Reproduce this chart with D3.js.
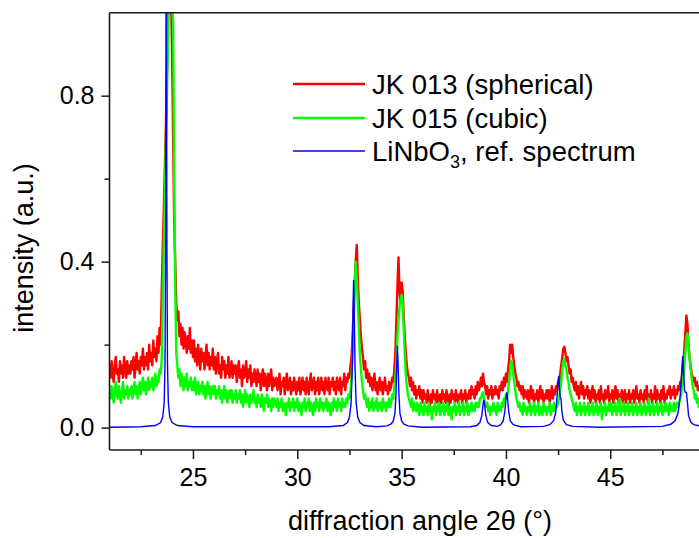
<!DOCTYPE html>
<html><head><meta charset="utf-8">
<script src="https://cdn.jsdelivr.net/npm/d3@7"></script>
<style>body{margin:0;background:#fff;}svg{display:block;font-family:"Liberation Sans",Arial,sans-serif;}</style>
</head><body>
<script>
// ---- data (sampled every 0.05 deg from 21.00) ----
const xStart = 21.0, xStep = 0.05;
const redValues = [
0.15,0.12,0.16,0.13,0.11,0.15,0.17,0.13,0.14,0.11,0.16,0.13,0.15,0.12,0.17,0.14,0.12,0.16,0.13,0.15,
0.13,0.16,0.14,0.17,0.12,0.15,0.18,0.14,0.16,0.13,0.17,0.15,0.19,0.14,0.17,0.15,0.18,0.14,0.20,0.16,
0.18,0.15,0.21,0.17,0.19,0.16,0.22,0.18,0.24,0.20,0.32,0.43,0.52,0.62,0.72,0.85,0.95,1.10,1.20,1.05,
0.90,0.70,0.50,0.40,0.30,0.26,0.28,0.22,0.25,0.20,0.24,0.19,0.23,0.21,0.18,0.22,0.19,0.24,0.18,0.21,
0.17,0.21,0.16,0.19,0.15,0.20,0.17,0.14,0.19,0.16,0.18,0.14,0.17,0.20,0.15,0.18,0.14,0.17,0.15,0.19,
0.14,0.17,0.13,0.16,0.18,0.13,0.15,0.12,0.17,0.14,0.16,0.12,0.15,0.13,0.17,0.12,0.14,0.16,0.12,0.15,
0.13,0.15,0.11,0.14,0.16,0.12,0.14,0.10,0.15,0.12,0.13,0.16,0.11,0.14,0.12,0.15,0.10,0.13,0.11,0.14,
0.12,0.10,0.14,0.11,0.13,0.09,0.12,0.14,0.10,0.13,0.11,0.09,0.13,0.10,0.12,0.14,0.09,0.12,0.10,0.11,
0.12,0.09,0.11,0.13,0.08,0.11,0.10,0.12,0.08,0.11,0.13,0.09,0.10,0.12,0.08,0.11,0.09,0.12,0.10,0.08,
0.11,0.09,0.12,0.08,0.10,0.12,0.09,0.11,0.08,0.12,0.10,0.08,0.11,0.13,0.09,0.10,0.12,0.08,0.11,0.09,
0.12,0.08,0.10,0.12,0.09,0.11,0.08,0.12,0.10,0.09,0.12,0.08,0.11,0.10,0.12,0.09,0.11,0.08,0.12,0.10,
0.09,0.12,0.08,0.11,0.10,0.13,0.09,0.12,0.11,0.13,0.12,0.15,0.17,0.22,0.28,0.35,0.40,0.44,0.36,0.30,
0.26,0.22,0.19,0.17,0.14,0.16,0.12,0.14,0.11,0.13,0.10,0.12,0.09,0.11,0.13,0.09,0.11,0.08,0.10,0.12,
0.09,0.11,0.08,0.10,0.12,0.09,0.10,0.08,0.11,0.09,0.10,0.12,0.11,0.14,0.18,0.26,0.34,0.41,0.33,0.30,
0.35,0.33,0.27,0.22,0.18,0.15,0.13,0.12,0.10,0.12,0.09,0.11,0.08,0.10,0.07,0.09,0.08,0.10,0.07,0.09,
0.06,0.09,0.07,0.08,0.06,0.09,0.07,0.05,0.08,0.06,0.09,0.07,0.08,0.06,0.09,0.07,0.05,0.08,0.06,0.09,
0.07,0.08,0.06,0.09,0.07,0.05,0.08,0.06,0.09,0.07,0.08,0.06,0.09,0.07,0.06,0.08,0.07,0.09,0.06,0.08,
0.07,0.09,0.06,0.08,0.07,0.09,0.07,0.10,0.08,0.09,0.07,0.10,0.08,0.11,0.09,0.10,0.12,0.10,0.13,0.11,
0.10,0.08,0.10,0.07,0.09,0.08,0.10,0.07,0.09,0.08,0.10,0.08,0.09,0.07,0.10,0.09,0.11,0.09,0.12,0.10,
0.13,0.11,0.14,0.16,0.20,0.18,0.20,0.17,0.15,0.13,0.12,0.10,0.11,0.09,0.10,0.08,0.10,0.07,0.09,0.08,
0.07,0.09,0.06,0.08,0.10,0.07,0.09,0.06,0.08,0.07,0.09,0.06,0.08,0.10,0.07,0.09,0.06,0.08,0.07,0.09,
0.07,0.09,0.06,0.08,0.10,0.07,0.09,0.08,0.10,0.09,0.11,0.10,0.13,0.15,0.17,0.19,0.195,0.18,0.16,0.17,
0.15,0.13,0.14,0.11,0.12,0.10,0.09,0.11,0.08,0.10,0.07,0.09,0.11,0.08,0.10,0.07,0.09,0.08,0.10,0.07,
0.09,0.06,0.08,0.10,0.07,0.09,0.06,0.08,0.07,0.09,0.06,0.10,0.07,0.08,0.06,0.09,0.07,0.08,0.10,0.06,
0.08,0.07,0.09,0.06,0.08,0.10,0.07,0.09,0.06,0.08,0.07,0.09,0.06,0.08,0.09,0.06,0.08,0.07,0.09,0.06,
0.08,0.07,0.09,0.06,0.08,0.10,0.07,0.08,0.06,0.09,0.07,0.08,0.06,0.09,0.07,0.10,0.06,0.08,0.07,0.09,
0.06,0.08,0.07,0.10,0.06,0.09,0.07,0.08,0.06,0.09,0.07,0.10,0.06,0.08,0.07,0.09,0.08,0.10,0.07,0.09,
0.08,0.10,0.07,0.09,0.08,0.10,0.09,0.11,0.10,0.13,0.15,0.19,0.23,0.27,0.25,0.20,0.17,0.15,0.13,0.12,
0.11,0.12,0.10,0.11,0.09,0.10,0.09,0.10
];
const greenValues = [
0.09,0.07,0.10,0.08,0.06,0.09,0.11,0.08,0.07,0.10,0.08,0.06,0.09,0.11,0.07,0.09,0.08,0.10,0.07,0.09,
0.08,0.10,0.07,0.09,0.11,0.08,0.10,0.07,0.09,0.11,0.08,0.10,0.12,0.09,0.11,0.08,0.10,0.12,0.09,0.11,
0.10,0.12,0.09,0.11,0.13,0.10,0.12,0.11,0.14,0.13,0.16,0.30,0.43,0.55,0.68,0.80,0.92,1.05,1.10,1.05,
1.02,0.98,0.60,0.35,0.18,0.15,0.12,0.14,0.10,0.13,0.11,0.09,0.12,0.10,0.13,0.09,0.11,0.10,0.12,0.09,
0.11,0.09,0.12,0.08,0.10,0.11,0.08,0.10,0.09,0.11,0.08,0.10,0.07,0.09,0.11,0.08,0.10,0.07,0.09,0.10,
0.08,0.10,0.07,0.09,0.08,0.10,0.07,0.09,0.06,0.08,0.10,0.07,0.09,0.06,0.08,0.09,0.07,0.09,0.06,0.08,
0.07,0.09,0.06,0.08,0.07,0.09,0.06,0.08,0.05,0.07,0.09,0.06,0.08,0.07,0.05,0.08,0.06,0.07,0.09,0.06,
0.07,0.05,0.08,0.06,0.07,0.05,0.08,0.06,0.04,0.07,0.06,0.08,0.05,0.07,0.06,0.04,0.07,0.05,0.07,0.06,
0.05,0.07,0.04,0.06,0.05,0.07,0.04,0.06,0.05,0.03,0.06,0.05,0.07,0.04,0.06,0.05,0.07,0.04,0.06,0.05,
0.07,0.04,0.06,0.05,0.03,0.06,0.05,0.07,0.04,0.06,0.05,0.07,0.04,0.06,0.05,0.03,0.06,0.04,0.07,0.05,
0.06,0.04,0.07,0.05,0.06,0.04,0.06,0.05,0.07,0.04,0.06,0.05,0.03,0.06,0.04,0.07,0.05,0.06,0.04,0.07,
0.05,0.06,0.04,0.07,0.05,0.06,0.05,0.07,0.06,0.08,0.07,0.09,0.12,0.17,0.25,0.33,0.40,0.36,0.30,0.24,
0.18,0.14,0.11,0.09,0.07,0.08,0.06,0.05,0.07,0.04,0.06,0.05,0.07,0.04,0.06,0.05,0.07,0.04,0.06,0.05,
0.06,0.04,0.07,0.05,0.06,0.04,0.06,0.05,0.07,0.05,0.06,0.08,0.07,0.10,0.12,0.16,0.22,0.26,0.29,0.31,
0.32,0.30,0.24,0.18,0.13,0.10,0.08,0.07,0.06,0.05,0.07,0.04,0.06,0.05,0.04,0.06,0.05,0.03,0.06,0.04,
0.05,0.03,0.06,0.04,0.05,0.03,0.06,0.04,0.05,0.02,0.05,0.04,0.06,0.03,0.05,0.04,0.06,0.03,0.05,0.04,
0.06,0.03,0.05,0.04,0.06,0.03,0.05,0.04,0.02,0.05,0.04,0.06,0.03,0.05,0.04,0.06,0.03,0.05,0.04,0.06,
0.03,0.05,0.04,0.06,0.03,0.05,0.04,0.06,0.04,0.05,0.04,0.06,0.05,0.06,0.05,0.07,0.07,0.08,0.085,0.07,
0.06,0.05,0.06,0.04,0.05,0.03,0.05,0.04,0.06,0.04,0.05,0.03,0.06,0.04,0.05,0.04,0.06,0.05,0.07,0.06,
0.08,0.07,0.09,0.11,0.14,0.16,0.15,0.13,0.11,0.09,0.07,0.06,0.05,0.06,0.04,0.05,0.03,0.06,0.04,0.05,
0.03,0.05,0.04,0.06,0.03,0.05,0.04,0.06,0.03,0.05,0.04,0.06,0.03,0.05,0.04,0.03,0.06,0.04,0.05,0.03,
0.05,0.04,0.06,0.03,0.05,0.04,0.06,0.04,0.05,0.05,0.06,0.07,0.09,0.11,0.14,0.16,0.165,0.15,0.14,0.12,
0.11,0.09,0.08,0.07,0.06,0.05,0.04,0.06,0.03,0.05,0.04,0.06,0.03,0.05,0.04,0.06,0.03,0.05,0.04,0.06,
0.03,0.05,0.04,0.06,0.03,0.05,0.04,0.06,0.03,0.05,0.04,0.06,0.02,0.05,0.04,0.06,0.03,0.05,0.04,0.06,
0.04,0.06,0.03,0.05,0.04,0.06,0.03,0.05,0.04,0.07,0.03,0.05,0.04,0.06,0.03,0.05,0.04,0.06,0.03,0.05,
0.04,0.06,0.03,0.05,0.04,0.06,0.03,0.05,0.04,0.06,0.03,0.05,0.04,0.06,0.03,0.05,0.04,0.07,0.03,0.05,
0.04,0.06,0.03,0.05,0.04,0.06,0.03,0.05,0.04,0.06,0.03,0.05,0.04,0.06,0.04,0.05,0.03,0.06,0.04,0.05,
0.04,0.06,0.04,0.05,0.06,0.05,0.06,0.07,0.08,0.10,0.12,0.15,0.18,0.22,0.227,0.20,0.17,0.14,0.12,0.10,
0.09,0.07,0.08,0.06,0.07,0.05,0.06,0.05
];
const blueX = [21.0,22.5,23.2,23.45,23.55,23.62,23.66,23.69,23.72,23.75,23.78,23.82,23.89,24.0,24.25,25.0,
31.5,32.2,32.4,32.5,32.58,32.63,32.67,32.70,32.73,32.77,32.82,32.9,33.0,33.2,33.8,
34.3,34.5,34.6,34.68,34.73,34.77,34.80,34.83,34.87,34.92,35.0,35.1,35.3,36.0,
38.3,38.6,38.75,38.84,38.9,38.94,38.98,39.04,39.13,39.3,39.6,39.75,39.87,39.95,40.0,40.04,40.08,40.13,40.21,40.35,40.7,
41.8,42.1,42.28,42.38,42.45,42.5,42.53,42.57,42.6,42.64,42.68,42.75,42.9,43.2,44.5,
47.5,47.9,48.1,48.25,48.35,48.42,48.47,48.52,48.56,48.6,48.65,48.7,48.75,48.85,49.0,49.4];
const blueY = [0.001,0.002,0.005,0.012,0.025,0.06,0.15,0.45,1.3,0.45,0.15,0.06,0.025,0.012,0.005,0.002,
0.002,0.005,0.012,0.025,0.06,0.14,0.28,0.356,0.28,0.14,0.06,0.025,0.012,0.005,0.002,
0.004,0.009,0.016,0.035,0.08,0.155,0.197,0.155,0.08,0.035,0.016,0.009,0.004,0.001,
0.002,0.005,0.012,0.028,0.055,0.067,0.055,0.028,0.012,0.005,0.003,0.007,0.016,0.04,0.07,0.085,0.07,0.04,0.016,0.007,0.002,
0.003,0.007,0.016,0.035,0.075,0.115,0.125,0.09,0.075,0.07,0.04,0.018,0.007,0.003,0.001,
0.003,0.008,0.016,0.035,0.075,0.13,0.172,0.13,0.09,0.085,0.085,0.06,0.03,0.014,0.007,0.003];
const seriesNames = ["JK 013 (spherical)", "JK 015 (cubic)"];
const yMajorTicks = [0.0, 0.4, 0.8];
const yMinorTicks = [0.2, 0.6];
const xMajorTicks = [25, 30, 35, 40, 45];
const xMinorTicks = [22.5, 27.5, 32.5, 37.5, 42.5, 47.5];

// ---- drawing ----
const W = 699, H = 538;
const svg = d3.select("body").append("svg").attr("width", W).attr("height", H);
const pLeft = 109.5, pTop = 12.7, pBottom = 450;
const x = d3.scaleLinear().domain([21, 49.4]).range([pLeft, pLeft + 28.4 * 20.865]);
const y = d3.scaleLinear().domain([-0.054, 1.0]).range([pBottom, pTop]);

svg.append("defs").append("clipPath").attr("id", "clip")
  .append("rect").attr("x", pLeft).attr("y", pTop).attr("width", W - pLeft + 10).attr("height", pBottom - pTop);

const line = d3.line().x(d => x(d[0])).y(d => y(d[1]));
const redData = redValues.map((v, i) => [xStart + i * xStep, v]);
const greenData = greenValues.map((v, i) => [xStart + i * xStep, v]);
const blueData = blueX.map((v, i) => [v, blueY[i]]);

const g = svg.append("g").attr("clip-path", "url(#clip)");
g.append("path").datum(redData).attr("d", line).attr("fill", "none").attr("stroke", "#ff0000").attr("stroke-width", 2.4).attr("stroke-linejoin", "round");
g.append("path").datum(greenData).attr("d", line).attr("fill", "none").attr("stroke", "#00ff00").attr("stroke-width", 2.4).attr("stroke-linejoin", "round");
g.append("path").datum(blueData).attr("d", line).attr("fill", "none").attr("stroke", "#0000ff").attr("stroke-width", 1.4);

// axes
const axisColor = "#1a1a1a";
const fmt = d3.format(".1f");
const yAx = svg.append("g").attr("transform", `translate(${pLeft},0)`)
  .call(d3.axisLeft(y).tickValues(yMajorTicks).tickSize(8).tickPadding(7).tickFormat(fmt));
const yMin = svg.append("g").attr("transform", `translate(${pLeft},0)`)
  .call(d3.axisLeft(y).tickValues(yMinorTicks).tickSize(5).tickFormat(""));
const xAx = svg.append("g").attr("transform", `translate(0,${pBottom})`)
  .call(d3.axisBottom(x).tickValues(xMajorTicks).tickSize(9).tickPadding(9).tickFormat(d3.format("d")));
const xMin = svg.append("g").attr("transform", `translate(0,${pBottom})`)
  .call(d3.axisBottom(x).tickValues(xMinorTicks).tickSize(5).tickFormat(""));
[yAx, yMin, xAx, xMin].forEach(a => {
  a.select(".domain").remove();
  a.selectAll("line").attr("stroke", axisColor).attr("stroke-width", 1.5);
  a.selectAll("text").attr("fill", "#000").style("font-size", "25px").style("font-family", "Liberation Sans, Arial, sans-serif");
});
svg.append("line").attr("x1", pLeft).attr("x2", pLeft).attr("y1", pTop).attr("y2", pBottom).attr("stroke", axisColor).attr("stroke-width", 1.6);
svg.append("line").attr("x1", pLeft).attr("x2", W).attr("y1", pBottom).attr("y2", pBottom).attr("stroke", axisColor).attr("stroke-width", 1.6);
svg.append("line").attr("x1", pLeft).attr("x2", W).attr("y1", pTop).attr("y2", pTop).attr("stroke", axisColor).attr("stroke-width", 1.6);

// axis labels
svg.append("text").attr("x", 420).attr("y", 530).attr("text-anchor", "middle")
  .style("font-size", "27px").text("diffraction angle 2θ (°)");
svg.append("text").attr("transform", "translate(33,248) rotate(-90)").attr("text-anchor", "middle")
  .style("font-size", "27px").text("intensity (a.u.)");

// legend
const legX1 = 293, legX2 = 365, legTextX = 372;
const legRows = [84, 118, 151];
const legColors = ["#ff0000", "#00ff00", "#0000ff"];
const legWidths = [2.4, 2.4, 1.4];
legRows.forEach((ly, i) => {
  svg.append("line").attr("x1", legX1).attr("x2", legX2).attr("y1", ly).attr("y2", ly)
    .attr("stroke", legColors[i]).attr("stroke-width", legWidths[i]);
});
seriesNames.forEach((n, i) => {
  svg.append("text").attr("x", legTextX).attr("y", legRows[i] + 10).style("font-size", "27.5px").text(n);
});
const t3 = svg.append("text").attr("x", legTextX).attr("y", legRows[2] + 10).style("font-size", "27.5px");
t3.append("tspan").text("LiNbO");
t3.append("tspan").attr("dy", 7).style("font-size", "18px").text("3");
t3.append("tspan").attr("dy", -7).text(", ref. spectrum");
</script>
</body></html>
